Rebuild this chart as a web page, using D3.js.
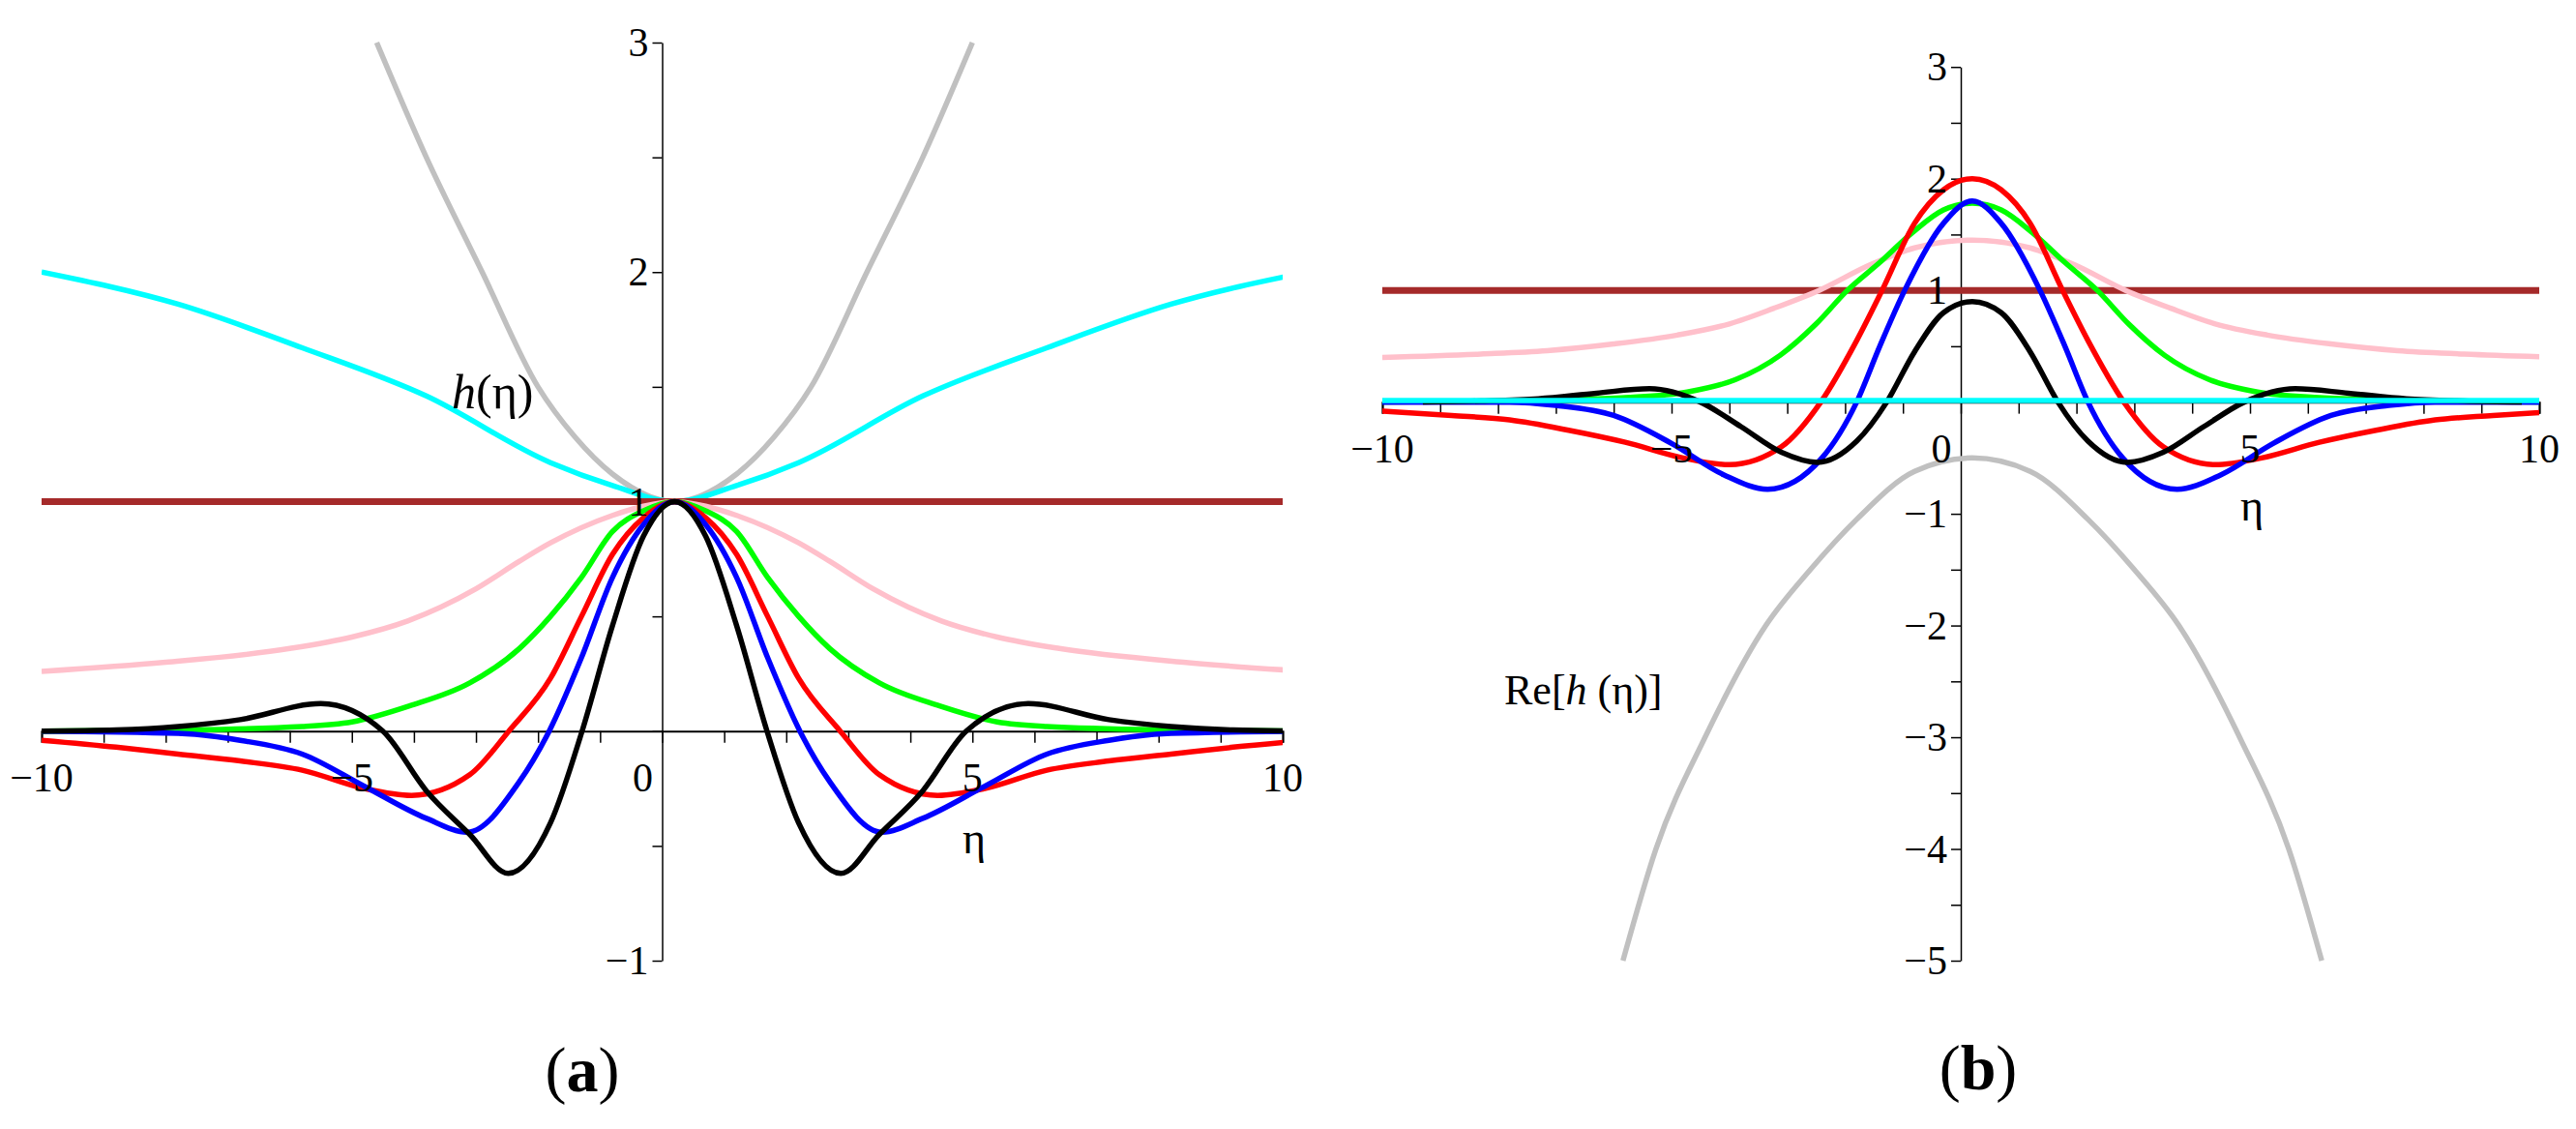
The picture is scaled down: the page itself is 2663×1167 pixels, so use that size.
<!DOCTYPE html>
<html><head><meta charset="utf-8">
<script src="https://cdn.jsdelivr.net/npm/d3@7"></script>
<style>body{margin:0;background:#fff}svg{display:block}text{font-family:"Liberation Serif","DejaVu Serif",serif}</style>
</head><body>
<svg id="chart" width="2663" height="1167"></svg>
<script>
// profiles given as (distance from centre, value); mirrored about the peak
var centre = 0.2;
var xTicks = [-10, -5, 0, 5, 10];

// panel (a)
var aU = {
  gray:  [0, 1, 1.6, 2.2, 3.1, 4.0, 4.8],
  cyan:  [0, 1, 2, 4, 6, 8, 10.2],
  pink:  [0, 0.5, 1, 2, 2.5, 3.2, 4.3, 5.2, 6.2, 8.2, 10.2],
  green: [0, 0.5, 1, 1.5, 2, 2.5, 3.3, 4.27, 5.2, 6, 8, 10.2],
  red:   [0, 0.5, 1, 1.5, 2, 2.67, 3.3, 4.24, 5, 6, 7, 8, 9, 10.2],
  blue:  [0, 0.5, 1, 1.5, 2.02, 2.5, 3.34, 4, 5, 6, 7, 8, 10.2],
  black: [0, 0.5, 1, 1.49, 2, 2.68, 3.3, 4, 4.7, 5.7, 7, 8, 9, 10.2]
};
var aV = {
  gray:  [1, 1.12, 1.28, 1.5, 2.0, 2.5, 3.0],
  cyan:  [1, 1.07, 1.17, 1.46, 1.67, 1.86, 2.0],
  pink:  [1, 0.98, 0.94, 0.82, 0.74, 0.62, 0.48, 0.41, 0.36, 0.3, 0.26],
  green: [1, 0.96, 0.87, 0.67, 0.5, 0.36, 0.21, 0.11, 0.04, 0.02, 0.005, 0],
  red:   [1, 0.93, 0.77, 0.5, 0.23, 0, -0.19, -0.28, -0.25, -0.17, -0.13, -0.1, -0.07, -0.04],
  blue:  [1, 0.9, 0.67, 0.32, 0, -0.22, -0.44, -0.38, -0.24, -0.1, -0.04, -0.01, 0],
  black: [1, 0.85, 0.46, 0, -0.4, -0.62, -0.45, -0.26, 0, 0.12, 0.05, 0.02, 0.005, 0]
};
var aBrown = 1;

// panel (b)
var bU = {
  gray:  [0, 1, 2, 2.8, 3.57, 4.62, 5.47, 6.04],
  pink:  [0, 1, 1.76, 2.65, 3.43, 4.2, 5.1, 6.2, 7.35, 8.5, 10.2],
  green: [0, 0.5, 1.03, 1.6, 2.16, 2.7, 3.32, 4.1, 4.93, 6, 7, 8, 10.2],
  red:   [0, 0.5, 1, 1.56, 2, 2.62, 3.3, 4.2, 5, 6, 7, 8, 9, 10.2],
  blue:  [0, 0.5, 1.17, 1.6, 2.0, 2.6, 3.54, 4.3, 5.2, 6.2, 7.2, 8, 10.2],
  black: [0, 0.5, 1, 1.48, 2, 2.68, 3.3, 4, 4.7, 5.58, 6.5, 7.5, 8.5, 9.5]
};
var bV = {
  gray:  [-0.5, -0.62, -1.05, -1.5, -2.0, -3.0, -4.0, -5.0],
  pink:  [1.45, 1.38, 1.23, 1.0, 0.84, 0.7, 0.6, 0.52, 0.46, 0.43, 0.4],
  green: [1.78, 1.72, 1.52, 1.25, 1.0, 0.7, 0.42, 0.2, 0.09, 0.04, 0.02, 0.01, 0],
  red:   [2.0, 1.9, 1.6, 1.0, 0.55, 0, -0.4, -0.56, -0.5, -0.36, -0.25, -0.16, -0.12, -0.08],
  blue:  [1.8, 1.6, 1.0, 0.5, 0, -0.5, -0.78, -0.65, -0.37, -0.12, -0.03, 0, 0],
  black: [0.9, 0.8, 0.45, 0, -0.35, -0.54, -0.45, -0.22, 0, 0.12, 0.08, 0.03, 0.01, 0]
};
var bBrown = 1;
var bCyan = 0.015;

var colours = {gray: "#c0c0c0", cyan: "#00ffff", pink: "#ffc0cb", green: "#00ff00",
  red: "#ff0000", blue: "#0000ff", black: "#000000", brown: "#a52a2a"};

var svg = d3.select("#chart");

function mirror(us, vs) {
  var pts = [];
  for (var i = us.length - 1; i > 0; i--) pts.push([centre - us[i], vs[i]]);
  for (var j = 0; j < us.length; j++) pts.push([centre + us[j], vs[j]]);
  return pts;
}

function panel(id, xr, yr, yDomain, yTicks, U, V, order) {
  var x = d3.scaleLinear().domain([-10, 10]).range(xr);
  var y = d3.scaleLinear().domain(yDomain).range(yr);
  var g = svg.append("g");
  g.append("clipPath").attr("id", id).append("rect")
    .attr("x", xr[0]).attr("width", xr[1] - xr[0]).attr("y", 0).attr("height", 1167);

  // axes
  var xa = g.append("g").attr("transform", "translate(0," + y(0) + ")")
    .call(d3.axisBottom(x).tickValues(d3.range(-10, 11, 1)).tickSize(12).tickFormat(""));
  xa.select(".domain").attr("stroke-width", 2);
  var ya = g.append("g").attr("transform", "translate(" + x(0) + ",0)")
    .call(d3.axisLeft(y).tickValues(d3.range(yDomain[0], yDomain[1] + 0.01, 0.5)).tickSize(10).tickSizeOuter(0).tickFormat(""));
  ya.select(".domain").attr("stroke-width", 1.5);
  g.selectAll(".tick line").attr("stroke-width", 1.5);

  var line = d3.line().x(function(d){return x(d[0]);}).y(function(d){return y(d[1]);}).curve(d3.curveMonotoneX);
  var lines = g.append("g").attr("clip-path", "url(#" + id + ")");
  order.forEach(function(k) {
    var pts;
    if (k === "brown") pts = [[-10, U.brown], [10, U.brown]];
    else if (k === "cyanflat") pts = [[-10, U.cyanflat], [10, U.cyanflat]];
    else pts = mirror(U[k], V[k]);
    var c = k === "cyanflat" ? colours.cyan : colours[k];
    lines.append("path").attr("d", line(pts)).attr("fill", "none")
      .attr("stroke", c).attr("stroke-width", k === "brown" ? 7 : 5.5);
  });

  // tick labels
  xTicks.forEach(function(t) {
    var lbl = t < 0 ? "\u2212" + (-t) : String(t);
    g.append("text").attr("x", t === 0 ? x(0) - 20 : x(t)).attr("y", y(0) + 62)
      .attr("text-anchor", "middle").attr("font-size", 42).text(lbl);
  });
  yTicks.forEach(function(t) {
    var lbl = t < 0 ? "\u2212" + (-t) : String(t);
    g.append("text").attr("x", x(0) - 14).attr("y", y(t) + 14)
      .attr("text-anchor", "end").attr("font-size", 42).text(lbl);
  });
  return {x: x, y: y};
}

var A = panel("clipA", [43, 1326], [993, 44], [-1, 3], [3, 2, 1, -1],
  Object.assign({brown: aBrown}, aU), aV, ["gray", "cyan", "brown", "pink", "green", "red", "blue", "black"]);
var B = panel("clipB", [1429, 2625], [993, 69.2], [-5, 3], [3, 2, 1, -1, -2, -3, -4, -5],
  Object.assign({brown: bBrown, cyanflat: bCyan}, bU), bV, ["gray", "brown", "pink", "green", "red", "blue", "black", "cyanflat"]);

// axis names
svg.append("text").attr("x", 467).attr("y", 422).attr("font-size", 50)
  .html('<tspan font-style="italic">h</tspan>(\u03b7)');
svg.append("text").attr("x", 995).attr("y", 882).attr("font-size", 46).text("\u03b7");
svg.append("text").attr("x", 2316).attr("y", 538).attr("font-size", 46).text("\u03b7");
svg.append("text").attr("x", 1555).attr("y", 728).attr("font-size", 44)
  .html('Re[<tspan font-style="italic">h</tspan> (\u03b7)]');

// panel letters
svg.append("text").attr("x", 602).attr("y", 1128).attr("text-anchor", "middle").attr("font-size", 66)
  .html('(<tspan font-weight="bold">a</tspan>)');
svg.append("text").attr("x", 2045).attr("y", 1126).attr("text-anchor", "middle").attr("font-size", 66)
  .html('(<tspan font-weight="bold">b</tspan>)');
</script>
</body></html>
